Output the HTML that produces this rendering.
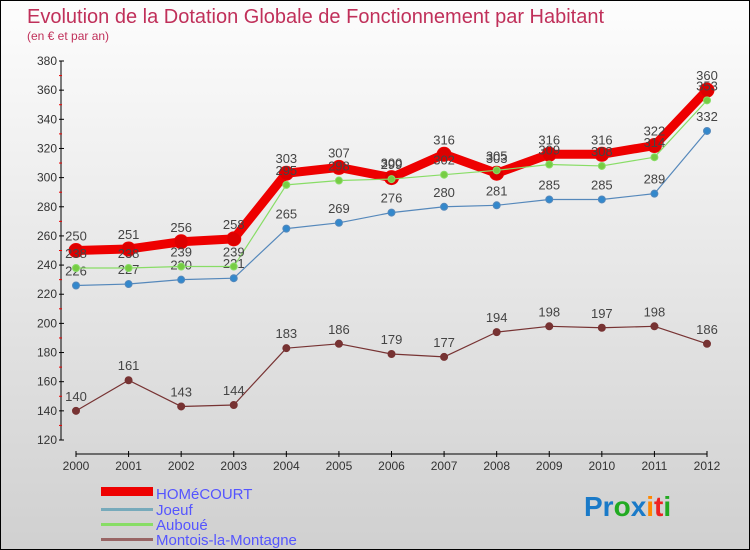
<!DOCTYPE html>
<html><head><meta charset="utf-8"><style>
body{margin:0}
#c{width:750px;height:550px;position:relative;overflow:hidden;background:linear-gradient(#fdfdfd,#d0d0d0);box-sizing:border-box;border:1px solid #000}
text{font-family:"Liberation Sans",sans-serif}
</style></head><body>
<div id="c">
<svg id="s" width="750" height="550" xmlns="http://www.w3.org/2000/svg">
<text x="26" y="22" font-size="20" fill="#c0305a">Evolution de la Dotation Globale de Fonctionnement par Habitant</text>
<text x="26" y="39" font-size="12" fill="#c0305a">(en € et par an)</text>
<g id="axes"></g><g id="series"></g>
<g>
<rect x="100" y="486" width="52" height="9" fill="#e00"/>
<text x="155" y="498" font-size="15" fill="#55f">HOMéCOURT</text>
<rect x="100" y="507" width="52" height="3" fill="#7ab"/>
<text x="155" y="514" font-size="15" fill="#55f">Joeuf</text>
<rect x="100" y="522" width="52" height="3" fill="#8d6"/>
<text x="155" y="529" font-size="15" fill="#55f">Auboué</text>
<rect x="100" y="537" width="52" height="3" fill="#966"/>
<text x="155" y="544" font-size="15" fill="#55f">Montois-la-Montagne</text>
</g>
<g font-size="28" font-weight="bold">
<text x="583" y="515"><tspan fill="#1a7ac8">Pr</tspan><tspan fill="#2a2">o</tspan><tspan fill="#1a7ac8">x</tspan><tspan fill="#f80">i</tspan><tspan fill="#e22">t</tspan><tspan fill="#2a2">i</tspan></text>
</g>
</svg></div>
<script>
const years=[2000,2001,2002,2003,2004,2005,2006,2007,2008,2009,2010,2011,2012];
const yTicks=[120,140,160,180,200,220,240,260,280,300,320,340,360,380];
const homecourt=[250,251,256,258,303,307,300,316,303,316,316,322,360];
const joeuf=[226,227,230,231,265,269,276,280,281,285,285,289,332];
const auboue=[238,238,239,239,295,298,299,302,305,309,308,314,353];
const montois=[140,161,143,144,183,186,179,177,194,198,197,198,186];
const NS="http://www.w3.org/2000/svg";
const X=i=>75+i*(706-75)/12;
const Y=v=>439-(v-120)*(379/260);
function mk(t,a,p){const e=document.createElementNS(NS,t);for(const k in a)e.setAttribute(k,a[k]);p.appendChild(e);return e;}
const ax=document.getElementById('axes');
let l=mk('line',{x1:60,y1:60,x2:60,y2:439,stroke:'#000'},ax);


l=mk('line',{x1:75,y1:453,x2:706,y2:453,stroke:'#000'},ax);


yTicks.forEach((v,i)=>{
 mk('line',{x1:58,y1:Y(v),x2:63,y2:Y(v),stroke:'#000'},ax);
 if(i<yTicks.length-1)mk('line',{x1:58,y1:Y(v+10),x2:61,y2:Y(v+10),stroke:'#e00'},ax);
 const t=mk('text',{x:56,y:Y(v)+4,'font-size':12,fill:'#333','text-anchor':'end'},ax);
 t.textContent=v;
 
 
});
years.forEach((y,i)=>{
 mk('line',{x1:X(i),y1:450,x2:X(i),y2:456,stroke:'#000'},ax);
 const t=mk('text',{x:X(i),y:469,'font-size':12,fill:'#333','text-anchor':'middle'},ax);
 t.textContent=y;
 
 
});
const sg=document.getElementById('series');
function draw(data,name,color,w,r,dot){
 const g=mk('g',{},sg);
 
 
 const p=mk('polyline',{points:data.map((v,i)=>X(i)+','+Y(v)).join(' '),fill:'none',stroke:color,'stroke-width':w,'stroke-linejoin':'round'},g);
 
 
 data.forEach((v,i)=>{
  const c=mk('circle',{cx:X(i),cy:Y(v),r:r,fill:dot,stroke:color,'stroke-width':1},g);
  
  
  const t=mk('text',{x:X(i),y:Y(v)-10,'font-size':13,fill:'#444','text-anchor':'middle'},g);
  t.textContent=v;
  
  
 });
}
draw(montois,'montois','#733',1.2,3.5,'#733');
draw(joeuf,'joeuf','#58b',1.2,3.5,'#38c');
draw(homecourt,'homecourt','#e00',9,7,'#d00');
draw(auboue,'auboue','#8d6',1.2,3.5,'#7c4');
</script>
</body></html>
